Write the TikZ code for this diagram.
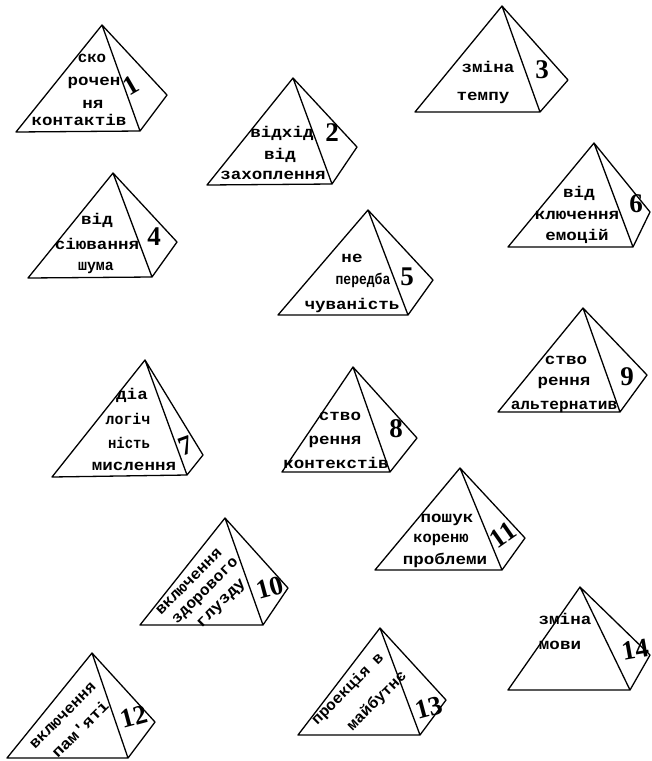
\documentclass[tikz,border=0pt]{standalone}
\usepackage{fontspec}
\newfontfamily\lblfont{Liberation Mono}
\newfontfamily\numfont{Liberation Serif}
\tikzset{
  edge/.style={line width=1.3pt, line join=round, line cap=round},
  lbl/.style={inner sep=0pt, text height=0.53em, text depth=0pt, font=\lblfont\bfseries\fontsize{15.5}{16}\selectfont},
  num/.style={inner sep=0pt, text height=0.68em, text depth=0pt, font=\numfont\bfseries\fontsize{27}{28}\selectfont}
}
\newcommand{\pyrm}[5]{%
  \coordinate (#1a) at (#2); \coordinate (#1l) at (#3);
  \coordinate (#1f) at (#4); \coordinate (#1r) at (#5);
  \draw[edge] (#1a) -- (#1l) -- (#1f) -- (#1r) -- cycle (#1a) -- (#1f);}
\newcommand{\sq}[2]{\scalebox{#1}[1]{#2}}
\newcommand{\nw}[1]{\scalebox{1.13}[1]{#1}}
\begin{document}
\begin{tikzpicture}[x=1pt,y=-1pt]
\fill[white] (0,0) rectangle (652,761);
\useasboundingbox (0,0) rectangle (652,761);
% 1
\pyrm{pA}{102,25}{16,132}{140,131}{167,95}
\node[lbl] (pAt1) at (92,60) {\sq{1.02}{ско}};
\node[lbl] (pAt2) at (94,83) {\nw{рочен}};
\node[lbl] (pAt3) at (93,106) {\nw{ня}};
\node[lbl] (pAt4) at (79,123) {\nw{контактів}};
\node[num, rotate=30] (pAn) at (134,90) {1};
% 2
\pyrm{pB}{293,78}{207,185}{332,184}{357,147}
\node[lbl] (pBt1) at (282,135) {\nw{відхід}};
\node[lbl] (pBt2) at (280,157) {\nw{від}};
\node[lbl] (pBt3) at (273,177) {\nw{захоплення}};
\node[num] (pBn) at (332,138) {2};
% 3
\pyrm{pC}{502,6}{415,112}{540,112}{568,80}
\node[lbl] (pCt1) at (488,70) {\nw{зміна}};
\node[lbl] (pCt2) at (483,98) {\nw{темпу}};
\node[num] (pCn) at (542,75) {3};
% 4
\pyrm{pD}{113,173}{28,278}{152,277}{177,242}
\node[lbl] (pDt1) at (97,222) {\nw{від}};
\node[lbl] (pDt2) at (97,247) {\nw{сіювання}};
\node[lbl] (pDt3) at (96,268) {\sq{0.96}{шума}};
\node[num] (pDn) at (154,242) {4};
% 5
\pyrm{pE}{368,210}{278,315}{408,315}{433,280}
\node[lbl] (pEt1) at (352,260) {\nw{не}};
\node[lbl] (pEt2) at (363,282) {\sq{0.84}{передба}};
\node[lbl] (pEt3) at (352,307) {\nw{чуваність}};
\node[num] (pEn) at (407,282) {5};
% 6
\pyrm{pF}{594,143}{508,247}{633,247}{650,212}
\node[lbl] (pFt1) at (579,195) {\nw{від}};
\node[lbl] (pFt2) at (577,217) {\nw{ключення}};
\node[lbl] (pFt3) at (577,238) {\nw{емоцій}};
\node[num] (pFn) at (636,209) {6};
% 7
\pyrm{pG}{145,360}{52,477}{187,475}{203,455}
\node[lbl] (pGt1) at (132,397) {\nw{діа}};
\node[lbl] (pGt2) at (128,422) {\sq{0.96}{логіч}};
\node[lbl] (pGt3) at (129,446) {\sq{0.9}{ність}};
\node[lbl] (pGt4) at (134,468) {\nw{мислення}};
\node[num, rotate=20] (pGn) at (188,451) {7};
% 8
\pyrm{pH}{353,367}{282,472}{390,472}{417,438}
\node[lbl] (pHt1) at (340,418) {\nw{ство}};
\node[lbl] (pHt2) at (335,442) {\nw{рення}};
\node[lbl] (pHt3) at (336,466) {\nw{контекстів}};
\node[num] (pHn) at (396,434) {8};
% 9
\pyrm{pI}{583,308}{498,412}{620,412}{647,375}
\node[lbl] (pIt1) at (566,362) {\nw{ство}};
\node[lbl] (pIt2) at (564,383) {\nw{рення}};
\node[lbl] (pIt3) at (564,407) {\sq{1.04}{альтернатив}};
\node[num] (pIn) at (627,382) {9};
% 10
\pyrm{pJ}{225,518}{140,625}{263,625}{288,588}
\node[lbl, rotate=45] (pJt1) at (190,583) {\sq{1.04}{включення}};
\node[lbl, rotate=45] (pJt2) at (206,592) {\sq{1.04}{здорового}};
\node[lbl, rotate=45] (pJt3) at (222,604) {\nw{глузду}};
\node[num, rotate=15] (pJn) at (271,593) {10};
% 11
\pyrm{pK}{460,468}{375,570}{502,570}{525,538}
\node[lbl] (pKt1) at (447,520) {\nw{пошук}};
\node[lbl] (pKt2) at (441,540) {\sq{0.99}{кореню}};
\node[lbl] (pKt3) at (445,562) {\nw{проблеми}};
\node[num, rotate=35] (pKn) at (506,539) {11};
% 12
\pyrm{pL}{92,653}{7,758}{128,758}{155,722}
\node[lbl, rotate=45] (pLt1) at (64,717) {\sq{1.04}{включення}};
\node[lbl, rotate=45] (pLt2) at (82,731) {\nw{пам'яті}};
\node[num, rotate=15] (pLn) at (135,722) {12};
% 13
\pyrm{pM}{380,628}{298,735}{420,735}{446,700}
\node[lbl, rotate=45] (pMt1) at (349,690) {\sq{1.02}{проекція в}};
\node[lbl, rotate=45] (pMt2) at (378,702) {\sq{1.04}{майбутнє}};
\node[num, rotate=15] (pMn) at (430,713) {13};
% 14
\pyrm{pN}{580,587}{508,690}{630,690}{650,655}
\node[lbl] (pNt1) at (565,622) {\nw{зміна}};
\node[lbl] (pNt2) at (560,647) {\nw{мови}};
\node[num, rotate=10] (pNn) at (636,655) {14};
\end{tikzpicture}
\end{document}
